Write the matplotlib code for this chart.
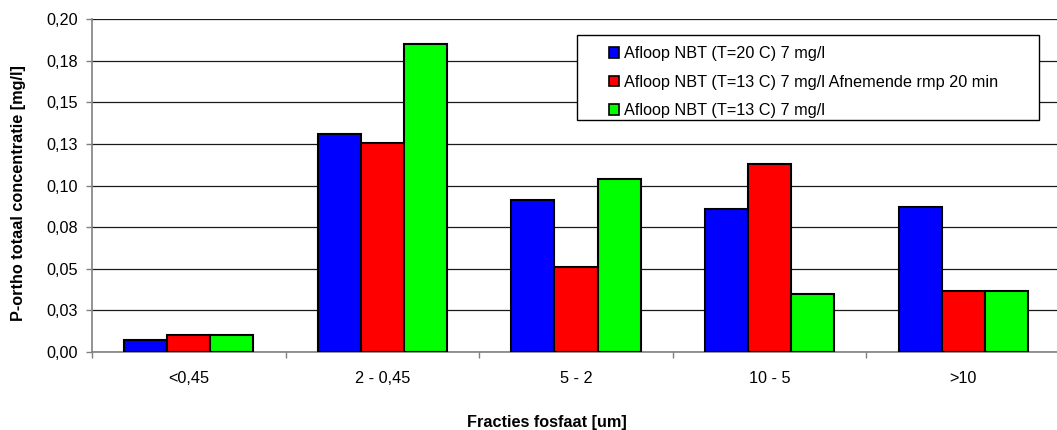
import matplotlib
matplotlib.use('Agg')
import matplotlib.pyplot as plt
from matplotlib.patches import Rectangle
from matplotlib.ticker import FuncFormatter, FixedLocator
from decimal import Decimal, ROUND_HALF_UP
import numpy as np

plt.rcParams['font.family'] = ['Liberation Sans', 'DejaVu Sans']

categories = ['<0,45', '2 - 0,45', '5 - 2', '10 - 5', '>10']
series_labels = ['Afloop NBT (T=20 C) 7 mg/l',
                 'Afloop NBT (T=13 C) 7 mg/l Afnemende rmp 20 min',
                 'Afloop NBT (T=13 C) 7 mg/l']
blue_vals = [0.0070, 0.1309, 0.0912, 0.0860, 0.0870]
red_vals = [0.0100, 0.1258, 0.0513, 0.1130, 0.0369]
green_vals = [0.0100, 0.1850, 0.1039, 0.0351, 0.0369]
y_ticks = [0.0, 0.025, 0.05, 0.075, 0.10, 0.125, 0.15, 0.175, 0.20]
x_label = 'Fracties fosfaat [um]'
y_label = 'P-ortho totaal concentratie [mg/l]'

FS = 11.7
colors = ['#0000FF', '#FF0000', '#00FF00']
W, H = 1057, 430
fig = plt.figure(figsize=(W / 100, H / 100), dpi=100)
ax = fig.add_axes([92 / W, 78 / H, (1060 - 92) / W, (352 - 19) / H])

x = np.arange(len(categories))
bw = 1 / 4.5
handles = []
for i, (vals, c, lab) in enumerate(zip([blue_vals, red_vals, green_vals], colors, series_labels)):
    b = ax.bar(x + (i - 1) * bw, vals, bw, color=c, edgecolor='black', linewidth=1.5,
               label=lab, zorder=3)
    handles.append(b)

ax.set_xlim(-0.5, len(categories) - 0.5)
ax.set_ylim(0, 0.20)
ax.yaxis.set_major_locator(FixedLocator(y_ticks))


def fmt(v, pos):
    d = Decimal(str(round(float(v), 6))).quantize(Decimal('0.01'), rounding=ROUND_HALF_UP)
    return str(d).replace('.', ',')


ax.yaxis.set_major_formatter(FuncFormatter(fmt))
ax.grid(axis='y', color='#1a1a1a', linewidth=0.9, zorder=0)
ax.set_axisbelow(True)

ax.set_xticks(x)
ax.set_xticklabels(categories)
ax.set_xticks(np.arange(len(categories) + 1) - 0.5, minor=True)
ax.tick_params(axis='x', which='major', length=0, pad=13.5, labelsize=FS)
ax.tick_params(axis='x', which='minor', length=4, width=1, color='#808080', direction='out')
ax.tick_params(axis='y', length=4, width=1, color='#808080', direction='out', pad=6, labelsize=FS)

for s in ['top', 'right']:
    ax.spines[s].set_visible(False)
for s in ['left', 'bottom']:
    ax.spines[s].set_color('#808080')
    ax.spines[s].set_linewidth(1.2)

fig.text(547 / W, 1 - 427 / H, x_label, ha='center', va='baseline', fontsize=FS, fontweight='bold')
fig.text(18.5 / W, 1 - 193 / H, y_label, ha='center', va='center', rotation=90,
         fontsize=FS, fontweight='bold')

# legend frame
fig.patches.append(Rectangle((577 / W, 1 - 120 / H), (1039 - 577) / W, (120 - 35) / H,
                             transform=fig.transFigure, facecolor='white', edgecolor='black',
                             linewidth=1.0, zorder=5))
leg = fig.legend(handles=handles, labels=series_labels, loc='upper left',
                 bbox_to_anchor=(596 / W, 1 - 33 / H), frameon=False, fontsize=FS,
                 handlelength=0.62, handleheight=0.62, handletextpad=0.3,
                 labelspacing=0.84, borderpad=0.3)
leg.set_zorder(6)
for h in leg.legend_handles:
    h.set_linewidth(1.2)

fig.savefig('out.png', dpi=100)
